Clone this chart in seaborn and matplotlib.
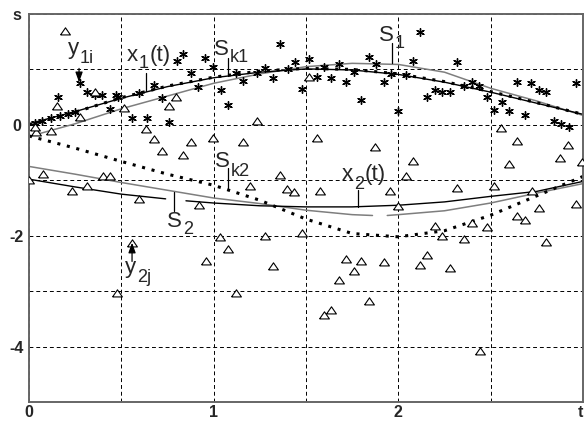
import numpy as np
import pandas as pd
import matplotlib
matplotlib.use("Agg")
import matplotlib.pyplot as plt
import seaborn as sns

# ---------------- data ----------------
t_grid = [0.0, 0.25, 0.5, 0.75, 1.0, 1.25, 1.5, 1.75, 2.0, 2.25, 2.5, 2.75, 3.0]
x1_vals = [0.02, 0.24, 0.48, 0.69, 0.85, 0.95, 1.01, 0.99, 0.91, 0.77, 0.59, 0.39, 0.19]
sk1_vals = [0.00, 0.23, 0.49, 0.70, 0.86, 0.97, 1.02, 1.00, 0.92, 0.78, 0.60, 0.40, 0.19]
s1_vals = [-0.21, 0.02, 0.29, 0.52, 0.75, 0.92, 1.05, 1.11, 1.09, 0.95, 0.66, 0.43, 0.17]
sk2_vals = [-0.20, -0.42, -0.66, -0.89, -1.09, -1.36, -1.70, -1.96, -2.02, -1.91, -1.63, -1.28, -0.93]

# x2(t) (black) and S2 (grey) with small breaks in the reference
x2_t = [0.0, 0.25, 0.5, 0.74, 0.85, 1.0, 1.25, 1.5, 1.75, 2.0, 2.25, 2.5, 2.75, 3.0]
x2_vals = [-0.98, -1.12, -1.25, -1.335, -1.37, -1.41, -1.46, -1.48, -1.48, -1.45, -1.39, -1.29, -1.20, -1.02]
x2_seg = [0, 0, 0, 0, 1, 1, 1, 1, 1, 1, 1, 1, 1, 1]
s2_t = [0.0, 0.25, 0.5, 0.75, 1.0, 1.25, 1.5, 1.75, 1.86, 1.94, 2.0, 2.25, 2.5, 2.75, 3.0]
s2_vals = [-0.75, -0.89, -1.04, -1.18, -1.32, -1.42, -1.54, -1.62, -1.635, -1.635, -1.62, -1.55, -1.41, -1.23, -1.06]
s2_seg = [0, 0, 0, 0, 0, 0, 0, 0, 0, 1, 1, 1, 1, 1, 1]

y1_t = [0.03, 0.07, 0.12, 0.17, 0.21, 0.25, 0.155, 0.275, 0.315, 0.355, 0.395, 0.47, 0.484,
        0.44, 0.557, 0.638, 0.759, 0.595, 0.678, 0.719, 0.80, 0.835, 0.954, 0.876, 0.916,
        0.997, 1.04, 1.076, 1.157, 1.12, 1.237, 1.28, 1.32, 1.358, 1.40, 1.438, 1.48,
        1.514, 1.60, 1.56, 1.636, 1.678, 1.718, 1.76, 1.80, 1.839, 1.879, 1.92, 1.958,
        1.998, 2.04, 2.078, 2.12, 2.157, 2.198, 2.238, 2.278, 2.318, 2.356, 2.40, 2.435,
        2.48, 2.517, 2.562, 2.60, 2.64, 2.684, 2.72, 2.76, 2.80, 2.842, 2.88, 2.923, 2.96]
y1_vals = [0.03, 0.07, 0.12, 0.16, 0.19, 0.24, 0.50, 0.75, 0.59, 0.535, 0.53, 0.54, 0.505,
           0.28, 0.13, 0.12, 0.06, 0.577, 0.726, 0.49, 1.16, 1.27, 1.21, 0.93, 0.69,
           1.045, 0.625, 0.357, 0.79, 0.93, 0.935, 1.02, 0.85, 1.455, 1.0, 1.14, 0.645,
           1.19, 1.045, 0.86, 0.85, 1.10, 0.77, 0.945, 0.446, 1.225, 1.095, 0.77, 0.92,
           0.25, 0.905, 1.16, 1.68, 0.51, 0.625, 0.585, 0.60, 1.13, 0.696, 0.77, 0.696,
           0.505, 0.265, 0.405, 0.255, 0.765, 0.18, 0.75, 0.63, 0.59, 0.075, 0.02, -0.033, 0.76]

y2_t = [0.195, 0.152, 0.275, 0.358, 0.516, 0.756, 0.798, 0.039, 0.03, 0.119, 0.635, 0.679,
        0.719, 0.835, 0.876, 0.997, 1.157, 1.236, 0.076, 0.0, 0.234, 0.315, 0.401, 0.44,
        0.595, 0.918, 1.198, 1.357, 1.395, 1.436, 0.557, 1.037, 1.076, 0.958, 1.277, 1.319,
        1.12, 0.475, 1.478, 1.718, 1.80, 1.758, 1.68, 1.92, 1.84, 1.595, 1.637, 1.998,
        2.20, 2.237, 2.155, 2.12, 2.278, 2.358, 2.40, 2.48, 2.44, 2.64, 2.685, 2.76, 2.798,
        2.96, 1.559, 1.875, 2.078, 2.04, 1.577, 1.957, 2.643, 2.92, 2.878, 2.60, 2.996,
        2.318, 2.518, 2.725, 2.558, 1.516]
y2_vals = [1.70, 0.345, 0.147, 0.59, 0.31, 0.345, 0.50, -0.12, -0.04, -0.107, -0.07, -0.26,
           -0.464, -0.55, -0.31, -0.24, -0.31, 0.077, -0.88, -1.0, -1.185, -1.095, -0.93, -0.93,
           -1.34, -1.44, -1.095, -0.91, -1.15, -1.205, -2.13, -2.025, -2.245, -2.46, -2.01, -2.55,
           -3.04, -3.04, -1.95, -2.42, -2.46, -2.64, -2.79, -2.47, -3.17, -3.43, -3.34, -1.455,
           -1.825, -2.0, -2.34, -2.53, -2.58, -2.055, -1.77, -1.84, -4.08, -1.65, -1.72, -1.5, -2.115,
           -1.42, -0.24, -0.40, -0.66, -0.925, -1.185, -1.185, -0.286, -0.365, -0.59, -0.70, -0.67,
           -1.14, -1.105, -1.20, -0.063, 0.865]

x_tick_pos = [0, 1, 2, 3]
x_tick_labels = ["0", "1", "2", "t"]
y_tick_pos = [2, 0, -2, -4]
y_tick_labels = ["s", "0", "-2", "-4"]

# ---------------- figure ----------------
sns.set_theme(style="white")
plt.rcParams["font.family"] = ["Liberation Sans", "DejaVu Sans"]

fig = plt.figure(figsize=(5.84, 4.21), dpi=100)
ax = fig.add_axes([29 / 584, 1 - 402 / 421, 554 / 584, 388 / 421])

GREY = "#7e7e7e"
df_main = pd.DataFrame({"t": t_grid, "x1": x1_vals, "sk1": sk1_vals, "s1": s1_vals, "sk2": sk2_vals})
df_x2 = pd.DataFrame({"t": x2_t, "v": x2_vals, "seg": x2_seg})
df_s2 = pd.DataFrame({"t": s2_t, "v": s2_vals, "seg": s2_seg})

sns.lineplot(data=df_main, x="t", y="s1", ax=ax, color=GREY, lw=1.1, estimator=None, sort=False)
sns.lineplot(data=df_s2, x="t", y="v", units="seg", ax=ax, color=GREY, lw=1.1, estimator=None, sort=False)
sns.lineplot(data=df_main, x="t", y="x1", ax=ax, color="black", lw=1.0, estimator=None, sort=False)
sns.lineplot(data=df_x2, x="t", y="v", units="seg", ax=ax, color="black", lw=1.0, estimator=None, sort=False)
for col in ["sk1", "sk2"]:
    sns.lineplot(data=df_main, x="t", y=col, ax=ax, color="black", lw=2.2,
                 linestyle=(0, (1, 2.2)), dash_capstyle="butt", estimator=None, sort=False)

sns.scatterplot(x=y1_t, y=y1_vals, ax=ax, marker=(6, 2, 0), s=30, color="black",
                linewidth=1.0, zorder=4)
tri = [(-1, -0.7), (1, -0.7), (0, 0.75), (-1, -0.7)]
sns.scatterplot(x=y2_t, y=y2_vals, ax=ax, marker=tri, s=50, color="white",
                edgecolor="black", linewidth=0.8, zorder=4)

ax.set_xlim(0, 3)
ax.set_ylim(-5, 2)
ax.set_xticks(x_tick_pos)
ax.set_xticklabels(x_tick_labels, fontweight="bold", fontsize=11.5)
ax.get_xticklabels()[-1].set_horizontalalignment("right")
ax.set_yticks(y_tick_pos)
ax.set_yticklabels(y_tick_labels, fontweight="bold", fontsize=11.5, ha="center")
ax.set_xticks([0.5, 1.5, 2.5], minor=True)
ax.set_yticks([1, -1, -3], minor=True)
ax.tick_params(which="both", length=0)
ax.tick_params(axis="x", pad=2)
ax.tick_params(axis="y", pad=9)
ax.grid(which="both", color="black", lw=0.7, linestyle=(0, (4, 3)))
ax.set_axisbelow(True)
ax.set_xlabel("")
ax.set_ylabel("")
for sp in ax.spines.values():
    sp.set_color("#666666")
    sp.set_linewidth(1.4)

# ---------------- annotations ----------------
FS_B, FS_S = 16, 13


def lab(x, y, base, sub, drop_px, tail=None):
    tb = ax.text(x, y, base, fontsize=FS_B, ha="left", va="baseline", zorder=6)
    ts = ax.annotate(sub, xy=(1, y), xycoords=(tb, "data"), xytext=(0.5, -drop_px * 0.72),
                     textcoords="offset points", fontsize=FS_S, va="baseline", ha="left", zorder=6)
    if tail:
        ax.annotate(tail, xy=(1, y), xycoords=(ts, "data"), xytext=(0.5, 0),
                    textcoords="offset points", fontsize=FS_B, va="baseline", ha="left", zorder=6)


lab(0.211, 1.286, "y", "1i", 9)
lab(0.531, 1.161, "x", "1", 7, "(t)")
lab(1.003, 1.268, "S", "k1", 7)
lab(1.897, 1.518, "S", "1", 7)
lab(1.008, -0.768, "S", "k2", 9)
lab(1.696, -1.0, "x", "2", 9, "(t)")
lab(0.748, -1.839, "S", "2", 7)
lab(0.52, -2.68, "y", "2j", 9)

leaders = [(0.634, 0.929, 0.607), (1.079, 1.214, 0.875), (1.967, 1.482, 1.107),
           (1.079, -0.786, -1.143), (1.783, -1.179, -1.482), (0.786, -1.214, -1.554)]
for lx, ly0, ly1 in leaders:
    ax.plot([lx, lx], [ly0, ly1], color="black", lw=0.9, zorder=5)

for ax_x, y_from, y_to in [(0.271, 1.018, 0.768), (0.558, -2.464, -2.125)]:
    ax.annotate("", xy=(ax_x, y_to), xytext=(ax_x, y_from),
                arrowprops=dict(arrowstyle="-|>,head_length=0.5,head_width=0.18",
                                color="black", lw=0.9, shrinkA=0, shrinkB=0), zorder=5)

fig.savefig("out.png", dpi=100)
